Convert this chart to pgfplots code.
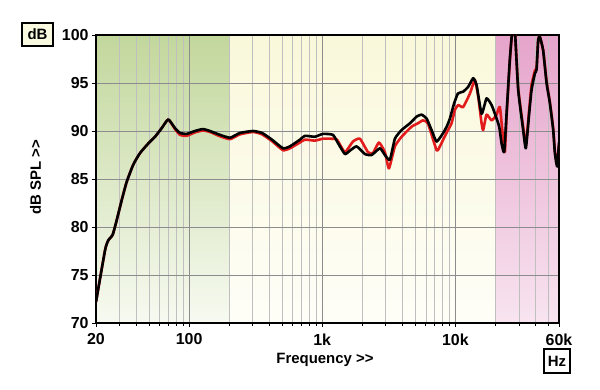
\documentclass[border=0pt]{standalone}
\usepackage{pgfplots}
\pgfplotsset{compat=1.18}
\usepackage{fontspec}
\setmainfont{Liberation Sans}
\definecolor{grnTop}{RGB}{194,215,156}
\definecolor{grnBot}{RGB}{247,250,241}
\definecolor{ylwTop}{RGB}{250,248,218}
\definecolor{ylwBot}{RGB}{254,254,248}
\definecolor{pnkTop}{RGB}{230,164,203}
\definecolor{pnkBot}{RGB}{248,228,240}
\definecolor{curveRed}{RGB}{226,28,28}
\definecolor{boxFill}{RGB}{250,250,224}
\begin{document}
\begin{tikzpicture}[x=1bp,y=1bp]
\begin{axis}[
  at={(0,0)}, anchor=south west,
  scale only axis, width=463bp, height=288bp,
  xmode=log, xmin=20, xmax=60000, ymin=70, ymax=100,
  set layers,
  axis line style={line width=1.4bp},
  xtick={20,100,1000,10000,60000},
  xticklabels={20,100,1k,10k,60k},
  minor xtick={30,40,50,60,70,80,90,200,300,400,500,600,700,800,900,2000,3000,4000,5000,6000,7000,8000,9000,20000,30000,40000,50000},
  ytick={70,75,...,100},
  tick align=outside, tick pos=left,
  major tick length=4bp, minor tick length=3bp,
  every tick/.style={black, line width=0.8bp},
  grid=both,
  major grid style={color=black!45, line width=0.7bp},
  minor grid style={color=black!25, line width=0.7bp},
  tick label style={font=\bfseries\fontsize{16}{16}\selectfont},
  /pgf/number format/assume math mode=true,
  xticklabel style={yshift=-3bp},
  xlabel={Frequency >\kern0pt>}, ylabel={dB SPL >\kern0pt>},
  label style={font=\bfseries\fontsize{15}{15}\selectfont},
  xlabel style={at={(axis description cs:0.4946,-0.128)}, anchor=center},
  ylabel style={at={(axis description cs:-0.1307,0.505)}, anchor=center},
]
\pgfplotsextra{%
\begin{pgfonlayer}{axis background}
\path[top color=grnTop,bottom color=grnBot] (axis cs:20,70) rectangle (axis cs:200,100);
\path[top color=ylwTop,bottom color=ylwBot] (axis cs:200,70) rectangle (axis cs:20000,100);
\path[top color=pnkTop,bottom color=pnkBot] (axis cs:20000,70) rectangle (axis cs:60000,100);
\end{pgfonlayer}}
\addplot[curveRed, line width=2.6bp, line join=round, smooth, tension=0.3] coordinates {
(20,72.2) (23.4,77.6) (24.7,78.6) (26.7,79.2) (28.6,80.7) (31.2,82.8) (34.0,84.7) (38.1,86.5)
(42.8,87.7) (49.4,88.7) (55.5,89.4) (62.3,90.3) (69.8,91.2) (78.4,90.2) (85.4,89.6) (95.9,89.5)
(110.7,89.85) (127,90.05) (143.5,89.9) (170.6,89.45) (203,89.15) (241,89.65) (302,89.9) (353,89.65)
(419,88.95) (507,88.0) (572,88.2) (680,88.8) (741,89.1) (881,89.0) (1012,89.2) (1142,89.2)
(1289,89.1) (1479,87.8) (1700,88.9) (1918,89.2) (2204,87.8) (2403,87.7) (2664,88.8) (2955,87.8)
(3168,86.1) (3514,88.4) (3944,89.4) (4688,90.45) (5230,90.8) (5702,91.1) (6216,90.8) (7226,88.0)
(7648,88.4) (8098,89.1) (8572,89.8) (9354,90.8) (9910,92.2) (10496,92.7) (11442,92.5) (12848,93.9)
(14002,95.3) (14826,93.6) (15728,90.8) (16168,90.1) (17142,91.7) (18708,91.1) (20383,91.7) (21574,92.5)
(22854,89.1) (23530,87.8) (24227,91.5) (25646,97.3) (26888,100.8) (27968,100.5) (29614,94.5) (32285,90.4)
(33818,88.5) (35806,92.2) (37329,94.8) (39540,96.3) (40700,96.6) (41860,99.5) (43090,99.8) (45600,98.4)
(48380,95.2) (51230,93.0) (54260,90.3) (55860,87.9) (58120,86.6) (60000,88.6)
};
\addplot[black, line width=2.6bp, line join=round, smooth, tension=0.3] coordinates {
(20,72.2) (23.4,77.6) (24.7,78.6) (26.7,79.2) (28.6,80.7) (31.2,82.8) (34.0,84.7) (38.1,86.5)
(42.8,87.7) (49.4,88.7) (55.5,89.4) (62.3,90.3) (69.8,91.2) (78.4,90.3) (85.4,89.8) (95.9,89.7)
(110.7,90.0) (127,90.2) (143.5,90.0) (170.6,89.6) (203,89.3) (241,89.8) (302,90.0) (353,89.8)
(419,89.1) (507,88.2) (572,88.4) (680,89.1) (741,89.5) (881,89.4) (1012,89.7) (1203,89.6)
(1312,88.75) (1479,87.6) (1614,87.95) (1812,88.4) (2092,87.6) (2349,87.5) (2710,88.2) (2955,87.5)
(3222,87.0) (3514,89.2) (3944,90.1) (4554,90.8) (5115,91.5) (5572,91.7) (6078,91.3) (6624,90.1)
(7226,88.9) (8098,89.8) (8630,90.5) (9094,91.3) (9744,92.8) (10442,93.9) (11442,94.1) (12474,94.6)
(13602,95.5) (14422,94.8) (15728,91.8) (17142,93.4) (18708,92.7) (19794,91.8) (21322,90.45) (22225,88.7)
(23245,87.8) (24227,91.8) (25646,97.5) (26888,100.8) (27968,100.5) (29614,94.3) (32285,90.1) (33818,88.2)
(35806,91.8) (37329,94.3) (39540,96.0) (40700,96.4) (41860,99.5) (43090,99.8) (45600,98.4) (48380,95.0)
(51230,92.9) (54260,90.1) (55860,87.7) (58120,86.3) (60000,88.8)
};
\end{axis}
\node[draw, line width=1.4bp, fill=boxFill, minimum width=31bp, minimum height=23bp, inner sep=0pt, font=\bfseries\fontsize{15}{15}\selectfont] at (-58.5,288.5) {dB};
\node[draw, line width=1.4bp, fill=white, minimum width=26bp, minimum height=24bp, inner sep=0pt, font=\bfseries\fontsize{15}{15}\selectfont] at (461,-38) {Hz};
\path (-96,-66) rectangle (504,323);
\end{tikzpicture}
\end{document}
